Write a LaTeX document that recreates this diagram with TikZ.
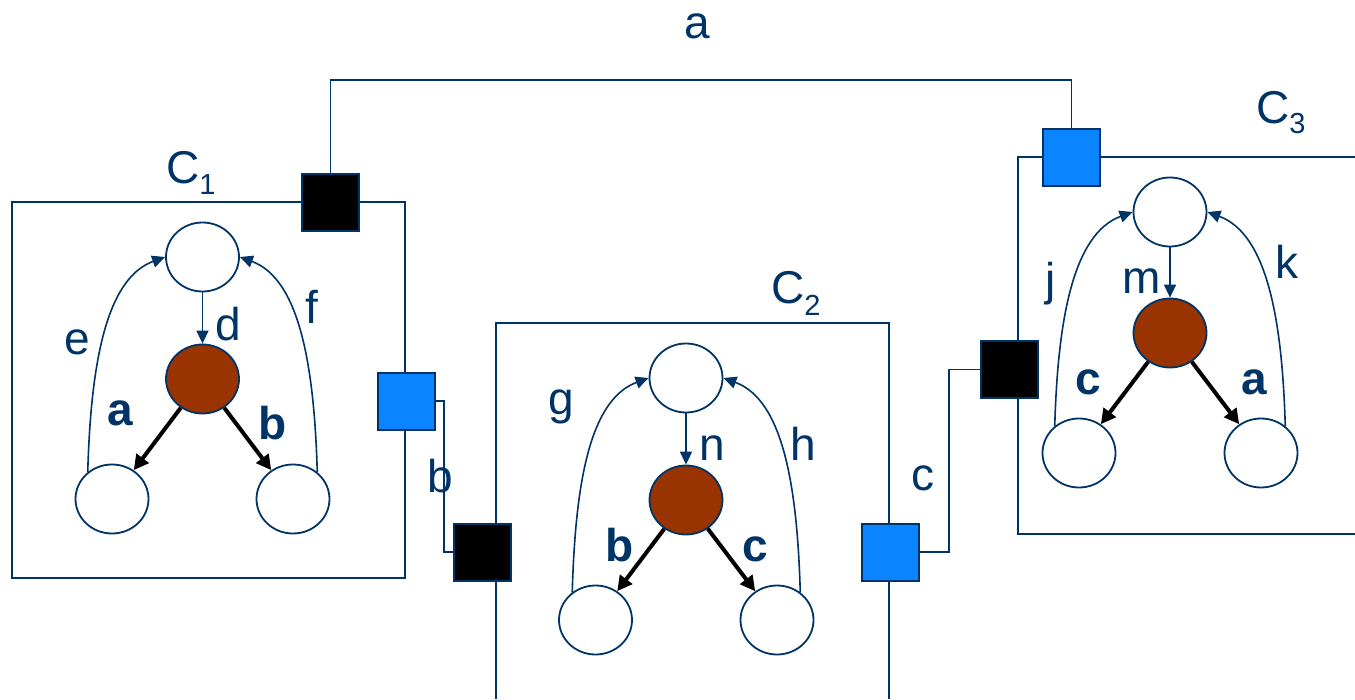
\documentclass[tikz,border=0pt]{standalone}
\usepackage{fontspec}
\setmainfont{Liberation Sans}
\usetikzlibrary{shapes.geometric,arrows.meta}
\definecolor{navy}{RGB}{0,51,102}
\definecolor{rust}{RGB}{153,51,0}
\definecolor{sky}{RGB}{11,132,255}
\begin{document}
\begin{tikzpicture}[x=1pt,y=-1pt,
 st/.style={ellipse,draw=navy,line width=1.8pt,minimum width=73pt,minimum height=69pt,inner sep=0pt,fill=white},
 hot/.style={st,fill=rust},
 port/.style={rectangle,draw=navy,line width=2pt,minimum size=57pt,inner sep=0pt},
 wire/.style={draw=navy,line width=1.8pt},
 thinarr/.style={draw=navy,line width=1.6pt,-{Triangle[length=13pt,width=12pt]}},
 thickarr/.style={draw=black,line width=4pt,-{Triangle[length=15pt,width=15pt]}},
 lab/.style={text=navy,font=\fontsize{46}{50}\selectfont,inner sep=0pt,anchor=base},
 blab/.style={lab,font=\fontsize{46}{50}\selectfont\bfseries},
]
\useasboundingbox[fill=white] (0,0) rectangle (1355,699);

% component boxes
\draw[wire] (12,202) rectangle (405,578);
\draw[wire] (496,699) -- (496,323) -- (889,323) -- (889,699);
\draw[wire] (1355,157) -- (1018,157) -- (1018,534) -- (1355,534);

% ports
\node[port,fill=black] (pa1) at (330.5,202) {};
\node[port,fill=sky]   (pb1) at (406.5,401) {};
\node[port,fill=black] (pb2) at (482,552) {};
\node[port,fill=sky]   (pc2) at (890,552) {};
\node[port,fill=black] (pc3) at (1009.5,369.5) {};
\node[port,fill=sky]   (pa3) at (1071.5,157) {};

% wires
\coordinate (atop) at (0,80);
\coordinate (bx) at (444,0);
\coordinate (cx) at (949,0);
\draw[wire] (pa1.north) |- (pa3.north |- atop) -- (pa3.north);
\draw[wire] (pb1.east) -| (bx |- pb2.west) -- (pb2.west);
\draw[wire] (pc2.east) -| (cx |- pc3.west) -- (pc3.west);

\node[lab] (la) at (697,38) {a};
\node[lab] (lb) at (440,492) {b};
\node[lab] (lc) at (923,490) {c};

% component labels
\node[lab,anchor=base west] (c1) at (166,183) {C\raisebox{-11pt}{\fontsize{29}{30}\selectfont 1}};
\node[lab,anchor=base west] (c2) at (771,303) {C\raisebox{-12pt}{\fontsize{29}{30}\selectfont 2}};
\node[lab,anchor=base west] (c3) at (1256,123) {C\raisebox{-10pt}{\fontsize{29}{30}\selectfont 3}};

% cluster 1
\node[st]  (t1) at (202.5,257) {};
\node[hot] (r1) at (202.5,379) {};
\node[st]  (l1) at (112,499) {};
\node[st]  (q1) at (293,499) {};
\draw[thinarr] (t1.south) -- (r1.north);
\draw[thickarr] (r1) -- (l1);
\draw[thickarr] (r1) -- (q1);
\draw[thinarr] (l1.132) .. controls +(3,-105) and +(-60,22) .. (t1.west);
\draw[thinarr] (q1.48) .. controls +(-3,-105) and +(60,22) .. (t1.east);
\node[lab] (ld) at (228,340) {d};
\node[lab] (le) at (77,354) {e};
\node[lab] (lf) at (312,323) {f};
\node[blab] (la1) at (120,425) {a};
\node[blab] (lb1) at (273,439) {b};

% cluster 2
\node[st]  (t2) at (686,378) {};
\node[hot] (r2) at (686,500) {};
\node[st]  (l2) at (595.5,620) {};
\node[st]  (q2) at (777,620) {};
\draw[thinarr] (t2.south) -- (r2.north);
\draw[thickarr] (r2) -- (l2);
\draw[thickarr] (r2) -- (q2);
\draw[thinarr] (l2.130) .. controls +(3,-105) and +(-60,22) .. (t2.west);
\draw[thinarr] (q2.50) .. controls +(-3,-105) and +(60,22) .. (t2.east);
\node[lab] (lg) at (561,414) {g};
\node[lab] (ln) at (712,460) {n};
\node[lab] (lh) at (803,460) {h};
\node[blab] (lb2) at (620,561) {b};
\node[blab] (lc2) at (755,561) {c};

% cluster 3
\node[st]  (t3) at (1170,212) {};
\node[hot] (r3) at (1170,333) {};
\node[st]  (l3) at (1079,453) {};
\node[st]  (q3) at (1261,453) {};
\draw[thinarr] (t3.south) -- (r3.north);
\draw[thickarr] (r3) -- (l3);
\draw[thickarr] (r3) -- (q3);
\draw[thinarr] (l3.132) .. controls +(3,-105) and +(-60,22) .. (t3.west);
\draw[thinarr] (q3.48) .. controls +(-3,-105) and +(60,22) .. (t3.east);
\node[lab] (lj) at (1051,295) {j};
\node[lab] (lm) at (1142,293) {m};
\node[lab] (lk) at (1287,278) {k};
\node[blab] (lc3) at (1088,394) {c};
\node[blab] (la3) at (1254,394) {a};
\end{tikzpicture}
\end{document}
